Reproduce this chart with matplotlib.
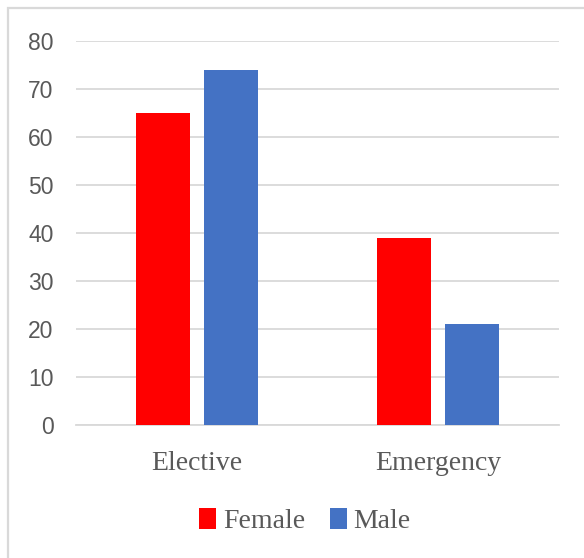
import matplotlib
matplotlib.use("Agg")
import matplotlib.pyplot as plt
import numpy as np
from matplotlib.patches import Rectangle

categories = ["Elective", "Emergency"]
female = [65, 39]
male = [74, 21]
y_ticks = [0, 10, 20, 30, 40, 50, 60, 70, 80]

fig = plt.figure(figsize=(5.84, 5.58), dpi=100)
ax = fig.add_axes([0.130, 0.2384, 0.827, 0.6881])

x = np.arange(len(categories))
w = 0.224
gap = 0.058
ax.bar(x - (w + gap) / 2, female, width=w, color="#FF0000", label="Female", zorder=3)
ax.bar(x + (w + gap) / 2, male, width=w, color="#4472C4", label="Male", zorder=3)

ax.set_xlim(-0.5, 1.5)
ax.set_ylim(0, 80)
ax.set_yticks(y_ticks)
ax.yaxis.grid(True, color="#D9D9D9", linewidth=1.3, zorder=0)
ax.set_axisbelow(True)
for s in ["top", "right", "left"]:
    ax.spines[s].set_visible(False)
ax.spines["bottom"].set_color("#D9D9D9")
ax.spines["bottom"].set_linewidth(1.3)

ax.tick_params(axis="y", length=0, pad=16, labelsize=16.5, labelcolor="#595959")
ax.tick_params(axis="x", length=0, pad=19, labelsize=20, labelcolor="#595959")
for t in ax.get_yticklabels():
    t.set_family("Liberation Sans")
ax.set_xticks(x)
ax.set_xticklabels(categories, family="Liberation Serif")

leg = fig.legend(loc="center", bbox_to_anchor=(0.522, 1 - 521 / 558), ncol=2,
                 frameon=False, prop={"family": "Liberation Serif", "size": 20},
                 handlelength=0.6, handleheight=0.8, handletextpad=0.25,
                 columnspacing=0.9)
for t in leg.get_texts():
    t.set_color("#595959")

# chart frame
fig.patches.append(Rectangle((8 / 584, -0.1), 1.2, 1 - 8 / 558 + 0.1,
                             transform=fig.transFigure, fill=False,
                             edgecolor="#D9D9D9", linewidth=1.6))

fig.savefig("out.png", dpi=100)
